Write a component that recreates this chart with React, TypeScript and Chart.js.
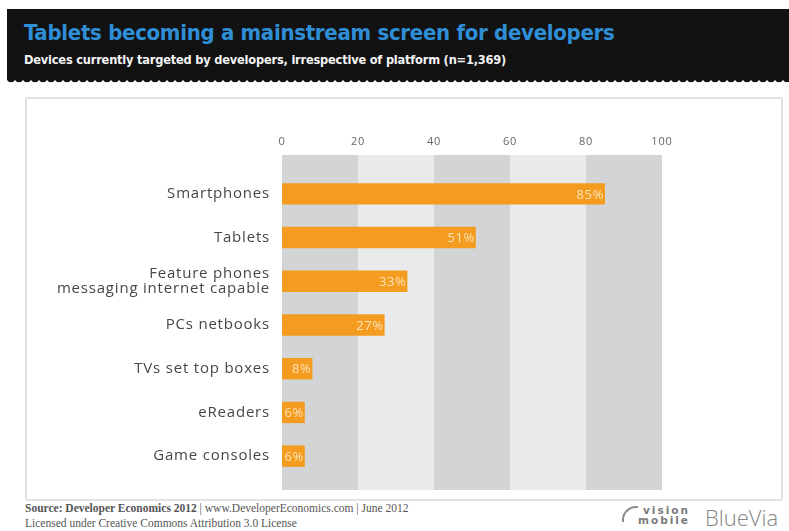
import React, { useEffect, useRef } from "react";
import { Chart, registerables } from "chart.js";

Chart.register(...registerables);

const title = "Tablets becoming a mainstream screen for developers";
const subtitle = "Devices currently targeted by developers, irrespective of platform (n=1,369)";
const categories: (string | string[])[] = [
  "Smartphones",
  "Tablets",
  ["Feature phones", "messaging internet capable"],
  "PCs netbooks",
  "TVs set top boxes",
  "eReaders",
  "Game consoles",
];
const values = [85, 51, 33, 27, 8, 6, 6];
const xTicks = [0, 20, 40, 60, 80, 100];
const sourceBold = "Source: Developer Economics 2012";
const sourceRest = " | www.DeveloperEconomics.com | June 2012";
const license = "Licensed under Creative Commons Attribution 3.0 License";

const bandsPlugin = {
  id: "bands",
  beforeDraw(chart: any) {
    (chart.ctx as any).letterSpacing = "0.8px";
  },
  beforeDatasetsDraw(chart: any) {
    const { ctx, chartArea } = chart;
    const xs = chart.scales.x;
    const top = chartArea.top - 17;
    const bottom = chartArea.bottom + 12;
    ctx.save();
    for (let i = 0; i < xTicks.length - 1; i++) {
      const x0 = xs.getPixelForValue(xTicks[i]);
      const x1 = xs.getPixelForValue(xTicks[i + 1]);
      ctx.fillStyle = i % 2 === 0 ? "#d3d4d6" : "#e9eaec";
      ctx.fillRect(x0, top, x1 - x0, bottom - top);
    }
    ctx.restore();
  },
  afterDatasetsDraw(chart: any) {
    const { ctx } = chart;
    const meta = chart.getDatasetMeta(0);
    ctx.save();
    (ctx as any).letterSpacing = "0.6px";
    ctx.font = "13px 'Open Sans'";
    ctx.fillStyle = "rgba(255,236,205,0.88)";
    ctx.textAlign = "right";
    ctx.textBaseline = "middle";
    meta.data.forEach((bar: any, i: number) => {
      ctx.fillText(values[i] + "%", bar.x - 1, bar.y + 1);
    });
    ctx.restore();
  },
};

function BarChart() {
  const ref = useRef<HTMLCanvasElement>(null);
  useEffect(() => {
    if (!ref.current) return;
    const chart = new Chart(ref.current, {
      type: "bar",
      data: {
        labels: categories as any,
        datasets: [
          {
            data: values,
            backgroundColor: "#f39c1f",
            barPercentage: 0.49,
            categoryPercentage: 1,
          },
        ],
      },
      options: {
        indexAxis: "y",
        responsive: false,
        animation: false,
        layout: { padding: { top: 0, right: 120, bottom: 21, left: 0 } },
        plugins: { legend: { display: false }, tooltip: { enabled: false } },
        scales: {
          x: {
            position: "top",
            min: 0,
            max: 100,
            grid: { display: false, drawTicks: false },
            border: { display: false },
            ticks: {
              stepSize: 20,
              padding: 24,
              color: "#666",
              font: { family: "'Open Sans'", size: 11 },
            },
            afterFit(scale: any) {
              scale.height = 73;
            },
          },
          y: {
            grid: { display: false, drawTicks: false },
            border: { display: false },
            ticks: {
              padding: 12,
              color: "#474747",
              font: { family: "'Open Sans'", size: 15, lineHeight: 1.02 },
            },
            afterFit(scale: any) {
              scale.width = 256;
            },
          },
        },
      },
      plugins: [bandsPlugin],
    });
    return () => chart.destroy();
  }, []);
  return <canvas ref={ref} width={756} height={400} style={{ width: 756, height: 400, display: "block" }} />;
}

export default function App() {
  return (
    <div
      style={{
        position: "absolute",
        left: 0,
        top: 0,
        width: 789,
        height: 531,
        background: "#fff",
        overflow: "hidden",
      }}
    >
      {/* header */}
      <div
        style={{
          position: "absolute",
          left: 7,
          top: 9,
          width: 782,
          height: 69,
          background: "#121212",
        }}
      >
        <div
          style={{
            position: "absolute",
            left: 17,
            top: 11,
            fontFamily: "'DejaVu Sans Condensed', 'DejaVu Sans'",
            fontStretch: "condensed",
            fontWeight: 700,
            fontSize: 22,
            color: "#2f8fd6",
            whiteSpace: "nowrap",
            letterSpacing: -0.3,
          }}
        >
          {title}
        </div>
        <div
          style={{
            position: "absolute",
            left: 17,
            top: 43,
            fontFamily: "'DejaVu Sans Condensed', 'DejaVu Sans'",
            fontStretch: "condensed",
            fontWeight: 700,
            fontSize: 12.7,
            color: "#f4f4f4",
            whiteSpace: "nowrap",
            letterSpacing: -0.2,
          }}
        >
          {subtitle}
        </div>
      </div>
      <div
        style={{
          position: "absolute",
          left: 7,
          top: 78,
          width: 782,
          height: 5,
          backgroundImage: "radial-gradient(circle at 4px 0px, #121212 4px, rgba(0,0,0,0) 4.6px)",
          backgroundSize: "8px 5px",
          backgroundRepeat: "repeat-x",
        }}
      />
      {/* frame */}
      <div
        style={{
          position: "absolute",
          left: 25,
          top: 97,
          width: 758,
          height: 404,
          border: "2px solid #e3e3e3",
          boxSizing: "border-box",
        }}
      />
      <div style={{ position: "absolute", left: 26, top: 99 }}>
        <BarChart />
      </div>
      {/* footer */}
      <div
        style={{
          position: "absolute",
          left: 25,
          top: 501,
          fontFamily: "'Liberation Serif', 'DejaVu Serif', serif",
          fontSize: 11.5,
          color: "#555",
          whiteSpace: "nowrap",
          lineHeight: "15px",
        }}
      >
        <div>
          <span style={{ fontWeight: 700 }}>{sourceBold}</span>
          <span>{sourceRest}</span>
        </div>
        <div>{license}</div>
      </div>
      <div
        style={{
          position: "absolute",
          left: 622,
          top: 505,
          width: 68,
          height: 24,
          fontFamily: "'DejaVu Sans'",
          fontSize: 10.5,
          fontWeight: 700,
          color: "#7a7a7a",
          textAlign: "right",
          lineHeight: "10px",
          letterSpacing: 2,
        }}
      >
        <div
          style={{
            position: "absolute",
            left: 0,
            top: 1,
            width: 14,
            height: 14,
            borderLeft: "2px solid #8a8a8a",
            borderTop: "2px solid #8a8a8a",
            borderTopLeftRadius: 14,
          }}
        />
        <div>vision</div>
        <div>mobile</div>
      </div>
      <div
        style={{
          position: "absolute",
          left: 705,
          top: 505,
          fontFamily: "'Open Sans'",
          fontSize: 22,
          fontWeight: 300,
          color: "#858585",
          whiteSpace: "nowrap",
          lineHeight: "24px",
        }}
      >
        BlueVia
      </div>
    </div>
  );
}
